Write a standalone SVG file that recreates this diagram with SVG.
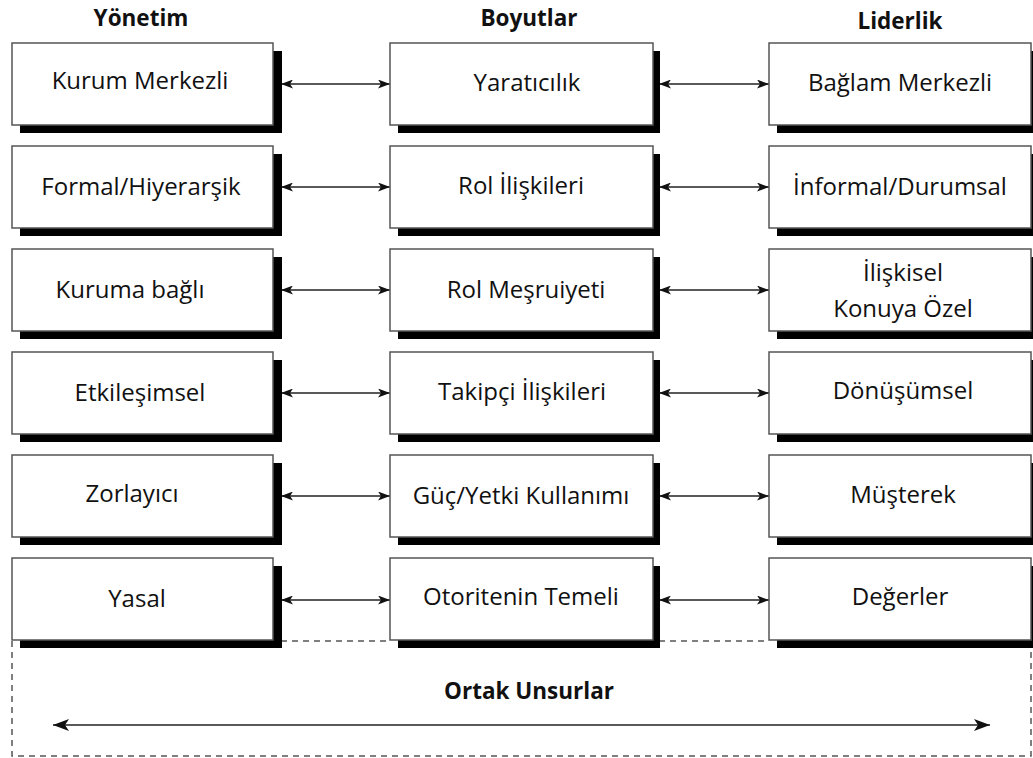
<svg xmlns="http://www.w3.org/2000/svg" width="1033" height="758" viewBox="0 0 1033 758">
<defs>
<style>
.shadow{fill:#000}
.box{fill:#fff;stroke:#555;stroke-width:1.5}
.t{font-family:"Open Sans","Noto Sans",sans-serif;font-size:24px;fill:#111;text-anchor:middle}
.h{font-family:"Open Sans","Noto Sans",sans-serif;font-size:22.5px;font-weight:bold;fill:#111;text-anchor:middle}
.c{stroke:#222;stroke-width:1.7;fill:none}
.dash{stroke:#555;stroke-width:1.5;fill:none;stroke-dasharray:6,5}
</style>
<marker id="ah" viewBox="0 0 12 9" refX="12" refY="4.5" markerWidth="12" markerHeight="9" markerUnits="userSpaceOnUse" orient="auto-start-reverse">
<path d="M0,0 L12,4.5 L0,9 L3,4.5 z" fill="#111"/>
</marker>
<marker id="ahb" viewBox="0 0 16 12" refX="16" refY="6" markerWidth="16" markerHeight="12" markerUnits="userSpaceOnUse" orient="auto-start-reverse">
<path d="M0,0 L16,6 L0,12 L4,6 z" fill="#111"/>
</marker>
</defs>
<rect width="1033" height="758" fill="#fff"/>
<g id="headers">
<text class="h" x="141" y="26">Yönetim</text>
<text class="h" x="529" y="26">Boyutlar</text>
<text class="h" x="900" y="29">Liderlik</text>
</g>
<g id="common">
<path class="dash" d="M12,641 V756 H1031 V648"/>
<path class="dash" d="M281,641 H390 M659,641 H769"/>
<text class="h" x="529" y="699">Ortak Unsurlar</text>
<line class="c" x1="53" y1="725" x2="990" y2="725" marker-start="url(#ahb)" marker-end="url(#ahb)"/>
</g>
<g id="connectors">
<line class="c" x1="281" y1="84" x2="390" y2="84" marker-start="url(#ah)" marker-end="url(#ah)"/>
<line class="c" x1="659" y1="84" x2="769" y2="84" marker-start="url(#ah)" marker-end="url(#ah)"/>
<line class="c" x1="281" y1="187" x2="390" y2="187" marker-start="url(#ah)" marker-end="url(#ah)"/>
<line class="c" x1="659" y1="187" x2="769" y2="187" marker-start="url(#ah)" marker-end="url(#ah)"/>
<line class="c" x1="281" y1="290" x2="390" y2="290" marker-start="url(#ah)" marker-end="url(#ah)"/>
<line class="c" x1="659" y1="290" x2="769" y2="290" marker-start="url(#ah)" marker-end="url(#ah)"/>
<line class="c" x1="281" y1="393" x2="390" y2="393" marker-start="url(#ah)" marker-end="url(#ah)"/>
<line class="c" x1="659" y1="393" x2="769" y2="393" marker-start="url(#ah)" marker-end="url(#ah)"/>
<line class="c" x1="281" y1="496" x2="390" y2="496" marker-start="url(#ah)" marker-end="url(#ah)"/>
<line class="c" x1="659" y1="496" x2="769" y2="496" marker-start="url(#ah)" marker-end="url(#ah)"/>
<line class="c" x1="281" y1="600" x2="390" y2="600" marker-start="url(#ah)" marker-end="url(#ah)"/>
<line class="c" x1="659" y1="600" x2="769" y2="600" marker-start="url(#ah)" marker-end="url(#ah)"/>
</g>
<g id="n-kurum-merkezli"><rect class="shadow" x="20" y="51" width="262" height="82"/><rect class="box" x="12" y="43" width="261" height="82"/><text class="t" x="140" y="89">Kurum Merkezli</text></g>
<g id="n-yaraticilik"><rect class="shadow" x="398" y="51" width="262" height="82"/><rect class="box" x="390" y="43" width="263" height="82"/><text class="t" x="527" y="91">Yaratıcılık</text></g>
<g id="n-baglam-merkezli"><rect class="shadow" x="777" y="51" width="262" height="82"/><rect class="box" x="769" y="43" width="262" height="82"/><text class="t" x="900" y="91">Bağlam Merkezli</text></g>

<g id="n-formal"><rect class="shadow" x="20" y="154" width="262" height="82"/><rect class="box" x="12" y="146" width="261" height="82"/><text class="t" x="141" y="195">Formal/Hiyerarşik</text></g>
<g id="n-rol-iliskileri"><rect class="shadow" x="398" y="154" width="262" height="82"/><rect class="box" x="390" y="146" width="263" height="82"/><text class="t" x="521" y="194">Rol İlişkileri</text></g>
<g id="n-informal"><rect class="shadow" x="777" y="154" width="262" height="82"/><rect class="box" x="769" y="146" width="262" height="82"/><text class="t" x="900" y="195">İnformal/Durumsal</text></g>

<g id="n-kuruma-bagli"><rect class="shadow" x="20" y="257" width="262" height="82"/><rect class="box" x="12" y="249" width="261" height="82"/><text class="t" x="130" y="298">Kuruma bağlı</text></g>
<g id="n-rol-mesruiyeti"><rect class="shadow" x="398" y="257" width="262" height="82"/><rect class="box" x="390" y="249" width="263" height="82"/><text class="t" x="526" y="298">Rol Meşruiyeti</text></g>
<g id="n-iliskisel"><rect class="shadow" x="777" y="257" width="262" height="82"/><rect class="box" x="769" y="249" width="262" height="82"/><text class="t" x="903" y="281">İlişkisel</text><text class="t" x="903" y="317">Konuya Özel</text></g>

<g id="n-etkilesimsel"><rect class="shadow" x="20" y="360" width="262" height="82"/><rect class="box" x="12" y="352" width="261" height="82"/><text class="t" x="140" y="401">Etkileşimsel</text></g>
<g id="n-takipci"><rect class="shadow" x="398" y="360" width="262" height="82"/><rect class="box" x="390" y="352" width="263" height="82"/><text class="t" x="522" y="400">Takipçi İlişkileri</text></g>
<g id="n-donusumsel"><rect class="shadow" x="777" y="360" width="262" height="82"/><rect class="box" x="769" y="352" width="262" height="82"/><text class="t" x="903" y="399">Dönüşümsel</text></g>

<g id="n-zorlayici"><rect class="shadow" x="20" y="463" width="262" height="82"/><rect class="box" x="12" y="455" width="261" height="82"/><text class="t" x="132" y="502">Zorlayıcı</text></g>
<g id="n-guc-yetki"><rect class="shadow" x="398" y="463" width="262" height="82"/><rect class="box" x="390" y="455" width="263" height="82"/><text class="t" x="521" y="504">Güç/Yetki Kullanımı</text></g>
<g id="n-musterek"><rect class="shadow" x="777" y="463" width="262" height="82"/><rect class="box" x="769" y="455" width="262" height="82"/><text class="t" x="903" y="503">Müşterek</text></g>

<g id="n-yasal"><rect class="shadow" x="20" y="566" width="262" height="82"/><rect class="box" x="12" y="558" width="261" height="82"/><text class="t" x="137" y="607">Yasal</text></g>
<g id="n-otorite"><rect class="shadow" x="398" y="566" width="262" height="82"/><rect class="box" x="390" y="558" width="263" height="82"/><text class="t" x="521" y="605">Otoritenin Temeli</text></g>
<g id="n-degerler"><rect class="shadow" x="777" y="566" width="262" height="82"/><rect class="box" x="769" y="558" width="262" height="82"/><text class="t" x="900" y="605">Değerler</text></g>
</svg>
